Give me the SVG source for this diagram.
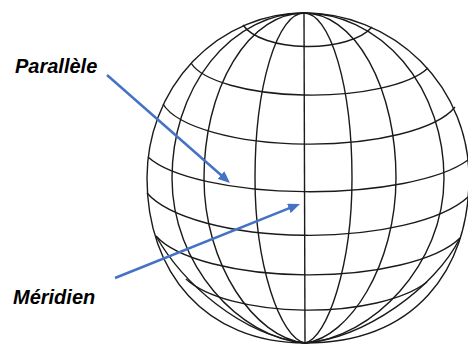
<svg xmlns="http://www.w3.org/2000/svg" width="468" height="344" viewBox="0 0 468 344">
<defs>
<style>
.g{fill:none;stroke:#1a1a1a;stroke-width:1.4}
.lbl{font-family:"Liberation Sans",Arial,sans-serif;font-weight:bold;font-style:italic;font-size:20px;fill:#000}
.arr{stroke:#4472C4;stroke-width:2.5;fill:none;marker-end:url(#ah)}
</style>
<marker id="ah" markerUnits="userSpaceOnUse" markerWidth="12" markerHeight="10" refX="6" refY="5" orient="auto"><path d="M0,0 L12,5 L0,10 z" fill="#4472C4"/></marker>
</defs>
<rect width="468" height="344" fill="#fff"/>
<g id="globe" class="g">
<path id="outline" d="M304,13 A157,165 0 0 0 147,178 C147,272 205,343 305,343 C415,343 469,270 469,178 A165,165 0 0 0 304,13 Z"/>
<g id="meridians">
<path d="M304,13 A132,165 0 0 0 172,178 C172,265 239.3,338 305,343"/>
<path d="M304,13 A100,165 0 0 0 204,178 C204,265 255,338 305,343"/>
<path d="M304,13 A49,165 0 0 0 255,178 C255,265 280,338 305,343"/>
<path d="M304,13 L305,343"/>
<path d="M304,13 A48,165 0 0 1 352,178 C352,265 327.5,338 305,343"/>
<path d="M304,13 A92,165 0 0 1 396,178 C396,265 349,338 305,343"/>
<path d="M304,13 A140,165 0 0 1 444,178 C444,265 372.6,338 305,343"/>
</g>
<g id="parallels">
<path d="M243,25 A68,30 0 0 0 372,27"/>
<path d="M191,63 A123,40 0 0 0 428,68"/>
<path d="M163,104 A150,50 0 0 0 455,107"/>
<path d="M148,157 A170,50 0 0 0 468,160"/>
<path d="M147,193 A170,60 0 0 0 468,197"/>
<path d="M156,236 A160,55 0 0 0 460,238"/>
<path d="M186,279 A132,50 0 0 0 427,282"/>
<path d="M156,236 C182,282 240,335 305,343"/>
<path d="M460,238 C435,288 365,338 305,343"/>
</g>
</g>
<g id="label-parallele"><text class="lbl" x="15" y="73">Parallèle</text></g>
<g id="label-meridien"><text class="lbl" x="13" y="304">Méridien</text></g>
<g id="connectors">
<line class="arr" x1="107" y1="75" x2="225.5" y2="179"/>
<line class="arr" x1="115" y1="278" x2="294.4" y2="206.2"/>
</g>
</svg>
